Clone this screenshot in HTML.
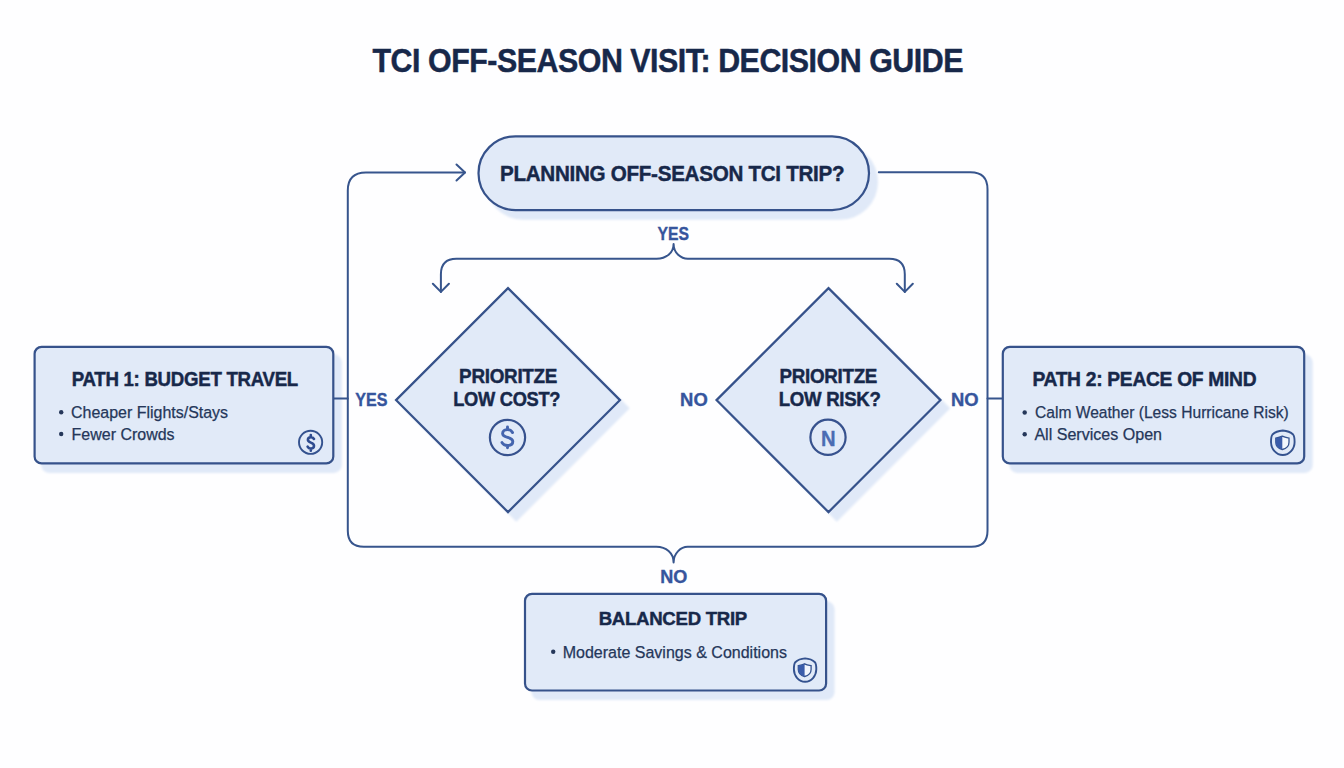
<!DOCTYPE html>
<html><head><meta charset="utf-8"><title>TCI Off-Season Visit: Decision Guide</title>
<style>
html,body{margin:0;padding:0;background:#fefeff;}
body{width:1344px;height:768px;overflow:hidden;font-family:"Liberation Sans",sans-serif;}
svg{display:block;}
.t{font-family:"Liberation Sans",sans-serif;font-weight:bold;fill:#17284a;stroke:#17284a;stroke-width:0.45;letter-spacing:-0.3px;}
.b{font-family:"Liberation Sans",sans-serif;font-weight:normal;fill:#25375a;stroke:#25375a;stroke-width:0.25;}
.l{font-family:"Liberation Sans",sans-serif;font-weight:bold;fill:#36559d;stroke:#36559d;stroke-width:0.35;}
.ln{fill:none;stroke:#37558d;stroke-width:2;stroke-linecap:round;stroke-linejoin:round;}
.box{fill:#e1eaf8;stroke:#36528b;stroke-width:2.2;}
.sh{fill:#e0e9f8;}
</style></head>
<body>
<svg width="1344" height="768" viewBox="0 0 1344 768">
<defs>
<filter id="blur" x="-10%" y="-10%" width="120%" height="120%"><feGaussianBlur stdDeviation="0.8"/></filter>
<linearGradient id="fill" x1="0" y1="0" x2="1" y2="1">
<stop offset="0" stop-color="#e5edfa"/><stop offset="1" stop-color="#e1eaf8"/>
</linearGradient>
</defs>
<rect width="1344" height="768" fill="#fefeff"/>

<!-- Title -->
<text class="t" x="372.5" y="71.8" font-size="32.5" style="letter-spacing:-0.5px" textLength="590.5" lengthAdjust="spacingAndGlyphs">TCI OFF-SEASON VISIT: DECISION GUIDE</text>

<!-- shadows -->
<g class="sh" filter="url(#blur)">
<rect x="485.5" y="144" width="392.5" height="75.8" rx="37.9"/>
<rect x="41.1" y="354.3" width="300.7" height="118.6" rx="8"/>
<rect x="1009.3" y="354.3" width="303.4" height="118.6" rx="8"/>
<rect x="531.5" y="601.3" width="303.1" height="98.7" rx="8"/>
<path d="M516.3 294.9 L629.7 408.3 L516.3 521.7 L402.9 408.3 Z"/>
<path d="M836.8 294.9 L950.2 408.3 L836.8 521.7 L723.4 408.3 Z"/>
</g>

<!-- connector lines -->
<path class="ln" d="M465 172.5 L366 172.5 Q347.8 172.5 347.8 190.5 L347.8 530.8 Q347.8 546.8 363.8 546.8 L656.4 546.8 C666 546.8 673.6 553 673.6 562.6 C673.6 553 681 546.8 687.6 546.8 L971.5 546.8 Q987.5 546.8 987.5 530.8 L987.5 189.3 Q987.5 172.3 970.5 172.3 L878.8 172.3"/>
<path class="ln" d="M456.5 164.5 L465 172.5 L456.5 180.5"/>
<path class="ln" d="M333.3 398.4 L347.8 398.4 M987.5 398.4 L1002.8 398.4"/>
<!-- YES brace -->
<path class="ln" d="M440.9 291.9 L440.9 274.2 Q440.9 258.7 456.4 258.7 L656.6 258.7 C666 258.7 673.6 253 673.6 243.9 C673.6 253 681 258.7 687.8 258.7 L889.3 258.7 Q904.8 258.7 904.8 274.2 L904.8 291.9"/>
<path class="ln" d="M432.9 283.7 L440.9 291.9 L448.9 283.7 M896.8 283.7 L904.8 291.9 L912.8 283.7"/>

<!-- Pill -->
<rect class="box" x="478.5" y="136.3" width="390.5" height="73.8" rx="36.9" fill="url(#fill)"/>
<text class="t" x="500.0" y="180.9" font-size="22" textLength="344.3" lengthAdjust="spacingAndGlyphs">PLANNING OFF-SEASON TCI TRIP?</text>

<!-- YES label -->
<text class="l" x="657.6" y="239.6" font-size="18" textLength="31.5" lengthAdjust="spacingAndGlyphs">YES</text>

<!-- Diamonds -->
<path class="box" d="M508 288.1 L620 400.1 L508 512.1 L396 400.1 Z"/>
<path class="box" d="M828.5 288.1 L940.5 400.1 L828.5 512.1 L716.5 400.1 Z"/>
<text class="t" x="459.1" y="383.4" font-size="19.8" textLength="98.0" lengthAdjust="spacingAndGlyphs">PRIORITZE</text>
<text class="t" x="453.2" y="406.2" font-size="19.8" textLength="107.0" lengthAdjust="spacingAndGlyphs">LOW COST?</text>
<text class="t" x="779.5" y="383.4" font-size="19.8" textLength="97.6" lengthAdjust="spacingAndGlyphs">PRIORITZE</text>
<text class="t" x="778.7" y="406.4" font-size="19.8" textLength="101.9" lengthAdjust="spacingAndGlyphs">LOW RISK?</text>
<circle cx="507.5" cy="437.5" r="17.6" fill="none" stroke="#37528e" stroke-width="2.2"/>
<path d="M512.5 432.5 C511.5 430.6 509.6 429.6 507.5 429.6 C504.6 429.6 502.6 431.2 502.6 433.5 C502.6 438.6 512.8 436.2 512.8 441.6 C512.8 444 510.6 445.5 507.5 445.5 C505 445.5 503 444.4 502 442.6 M507.5 427 L507.5 429.6 M507.5 445.5 L507.5 447.8" fill="none" stroke="#4565ae" stroke-width="2.9" stroke-linecap="round"/>
<circle cx="828" cy="437.3" r="17.6" fill="none" stroke="#37528e" stroke-width="2.2"/>
<text class="l" x="820.9" y="445.6" font-size="22" textLength="14.6" lengthAdjust="spacingAndGlyphs" style="fill:#4a6cb3;stroke:#4a6cb3">N</text>

<!-- side labels -->
<text class="l" x="355.3" y="405.7" font-size="17.5" textLength="32.2" lengthAdjust="spacingAndGlyphs">YES</text>
<text class="l" x="680.1" y="405.9" font-size="17.5" textLength="27.6" lengthAdjust="spacingAndGlyphs">NO</text>
<text class="l" x="951.0" y="405.9" font-size="17.5" textLength="27.6" lengthAdjust="spacingAndGlyphs">NO</text>
<text class="l" x="660.3" y="582.5" font-size="17.5" textLength="27.1" lengthAdjust="spacingAndGlyphs">NO</text>

<!-- Left box -->
<rect class="box" x="34.6" y="346.8" width="298.7" height="116.6" rx="7" fill="url(#fill)"/>
<text class="t" x="71.7" y="385.5" font-size="19.5" textLength="226.3" lengthAdjust="spacingAndGlyphs">PATH 1: BUDGET TRAVEL</text>
<circle cx="61.2" cy="412.3" r="2.2" fill="#25375a"/>
<text class="b" x="71.1" y="418.1" font-size="16.3" textLength="157.0" lengthAdjust="spacingAndGlyphs">Cheaper Flights/Stays</text>
<circle cx="61.2" cy="434" r="2.2" fill="#25375a"/>
<text class="b" x="71.6" y="439.6" font-size="16.3" textLength="103.0" lengthAdjust="spacingAndGlyphs">Fewer Crowds</text>
<circle cx="310.6" cy="442.3" r="11.6" fill="none" stroke="#34528f" stroke-width="1.9"/>
<path transform="translate(310.8 442.6)" d="M3.2 -3.6 C2.5 -4.8 1.2 -5.4 0 -5.4 C-1.7 -5.4 -2.9 -4.4 -2.9 -2.8 C-2.9 0.6 3.2 -0.6 3.2 3.1 C3.2 4.8 1.9 5.9 0 5.9 C-1.4 5.9 -2.6 5.2 -3.2 4 M0 -7.6 L0 -5.4 M0 5.9 L0 8.1" fill="none" stroke="#2f4c90" stroke-width="2.6" stroke-linecap="round"/>

<!-- Right box -->
<rect class="box" x="1002.8" y="346.8" width="301.4" height="116.6" rx="7" fill="url(#fill)"/>
<text class="t" x="1032.4" y="385.9" font-size="19.5" textLength="223.9" lengthAdjust="spacingAndGlyphs">PATH 2: PEACE OF MIND</text>
<circle cx="1024.7" cy="412.5" r="2.2" fill="#25375a"/>
<text class="b" x="1035.0" y="418.3" font-size="16.3" textLength="253.7" lengthAdjust="spacingAndGlyphs">Calm Weather (Less Hurricane Risk)</text>
<circle cx="1024.7" cy="434.2" r="2.2" fill="#25375a"/>
<text class="b" x="1034.4" y="439.8" font-size="16.3" textLength="127.6" lengthAdjust="spacingAndGlyphs">All Services Open</text>
<g transform="translate(1282.8 442.7)">
<path d="M0 -12.2 C4 -11.9 8 -10.4 10.3 -8.2 C11.6 -6.7 11.8 -4.2 11.8 -0.7 C11.8 6.3 6.5 12.3 0 12.3 C-6.5 12.3 -11.8 6.3 -11.8 -0.7 C-11.8 -4.2 -11.6 -6.7 -10.3 -8.2 C-8 -10.4 -4 -11.9 0 -12.2 Z" fill="none" stroke="#34528f" stroke-width="1.9"/>
<path d="M-0.5 -6.5 C1.5 -5.5 4 -5 6.2 -4.6 L6.2 -0.5 C6.2 3 3.5 5.8 -0.5 6.8 C-4.5 5.8 -7 3 -7 -0.5 L-7 -4.6 C-4.5 -5 -2.5 -5.5 -0.5 -6.5 Z" fill="#f2f6fd" stroke="#34528f" stroke-width="1.3"/>
<path d="M-0.5 -6.5 C-2.5 -5.5 -4.5 -5 -7 -4.6 L-7 -0.5 C-7 3 -4.5 5.8 -0.5 6.8 Z" fill="#3a5caa"/>
</g>

<!-- Bottom box -->
<rect class="box" x="525" y="593.8" width="301.1" height="96.7" rx="7" fill="url(#fill)"/>
<text class="t" x="598.7" y="624.8" font-size="19.2" textLength="148.2" lengthAdjust="spacingAndGlyphs">BALANCED TRIP</text>
<circle cx="553.2" cy="651.8" r="2.2" fill="#25375a"/>
<text class="b" x="562.7" y="657.6" font-size="16.3" textLength="224.3" lengthAdjust="spacingAndGlyphs">Moderate Savings &amp; Conditions</text>
<g transform="translate(805.1 670)">
<path d="M0 -11.6 C3.8 -11.3 7.6 -9.9 9.8 -7.8 C11 -6.4 11.2 -4 11.2 -0.7 C11.2 6 6.2 11.7 0 11.7 C-6.2 11.7 -11.2 6 -11.2 -0.7 C-11.2 -4 -11 -6.4 -9.8 -7.8 C-7.6 -9.9 -3.8 -11.3 0 -11.6 Z" fill="none" stroke="#34528f" stroke-width="1.9"/>
<path d="M-0.5 -6.2 C1.5 -5.2 3.8 -4.8 6 -4.4 L6 -0.5 C6 2.9 3.4 5.5 -0.5 6.5 C-4.4 5.5 -6.8 2.9 -6.8 -0.5 L-6.8 -4.4 C-4.4 -4.8 -2.5 -5.2 -0.5 -6.2 Z" fill="#f2f6fd" stroke="#34528f" stroke-width="1.3"/>
<path d="M-0.5 -6.2 C-2.5 -5.2 -4.4 -4.8 -6.8 -4.4 L-6.8 -0.5 C-6.8 2.9 -4.4 5.5 -0.5 6.5 Z" fill="#3a5caa"/>
</g>
</svg>
</body></html>
